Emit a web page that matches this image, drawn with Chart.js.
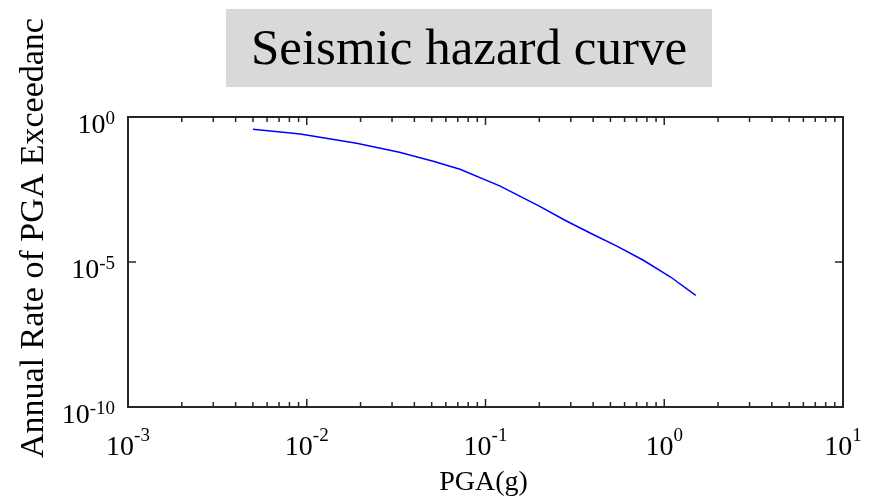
<!DOCTYPE html>
<html>
<head>
<meta charset="utf-8">
<script src="https://cdn.jsdelivr.net/npm/chart.js@4/dist/chart.umd.min.js"></script>
<style>
  html, body { margin: 0; padding: 0; background: #fff; }
  #wrap { position: relative; width: 872px; height: 496px; }
</style>
</head>
<body>
<div id="wrap"><canvas id="hazard" width="872" height="496"></canvas></div>
<script>
// ===== DATA =====
const pga = [0.005, 0.0092, 0.019, 0.033, 0.051, 0.072, 0.12, 0.2, 0.28, 0.4, 0.54, 0.76, 1.08, 1.5];
const rate = [0.377, 0.26, 0.124, 0.061, 0.030, 0.0158, 0.0042, 8.5e-4, 2.7e-4, 8.9e-5, 3.6e-5, 1.17e-5, 3.1e-6, 7.1e-7];
const xTickExp = [-3, -2, -1, 0, 1];
const yTickExp = [-10, -5, 0];
const chartTitle = 'Seismic hazard curve';
const xTitle = 'PGA(g)';
const yTitle = 'Annual Rate of PGA Exceedanc';

const SERIF = '"Liberation Serif", "Times New Roman", serif';
const INK = '#262626';

// draws the title box, axes box, inward ticks and 10^n labels
const frame = {
    id: 'frame',
    beforeDraw(chart) {
        const ctx = chart.ctx;
        ctx.save();
        ctx.fillStyle = '#d9d9d9';
        ctx.fillRect(226, 9, 486, 78);
        ctx.fillStyle = '#000';
        ctx.font = '51px ' + SERIF;
        ctx.textAlign = 'center';
        ctx.textBaseline = 'alphabetic';
        ctx.fillText(chartTitle, 469, 64);
        ctx.restore();
    },
    afterDraw(chart) {
        const { ctx, chartArea: a } = chart;
        const xs = chart.scales.x, ys = chart.scales.y;
        ctx.save();
        ctx.strokeStyle = INK;
        ctx.lineWidth = 2;
        ctx.strokeRect(a.left, a.top, a.right - a.left, a.bottom - a.top);

        ctx.lineWidth = 1.5;
        ctx.beginPath();
        // x ticks, major + minor, bottom and top
        xTickExp.forEach((e, i) => {
            const px = xs.getPixelForValue(Math.pow(10, e));
            ctx.moveTo(px, a.bottom); ctx.lineTo(px, a.bottom - 8);
            ctx.moveTo(px, a.top); ctx.lineTo(px, a.top + 8);
            if (i < xTickExp.length - 1) {
                for (let m = 2; m <= 9; m++) {
                    const mx = xs.getPixelForValue(m * Math.pow(10, e));
                    ctx.moveTo(mx, a.bottom); ctx.lineTo(mx, a.bottom - 5);
                    ctx.moveTo(mx, a.top); ctx.lineTo(mx, a.top + 5);
                }
            }
        });
        yTickExp.forEach(e => {
            const py = ys.getPixelForValue(Math.pow(10, e));
            ctx.moveTo(a.left, py); ctx.lineTo(a.left + 8, py);
            ctx.moveTo(a.right, py); ctx.lineTo(a.right - 8, py);
        });
        ctx.stroke();

        // tick labels
        ctx.fillStyle = '#000';
        ctx.textBaseline = 'alphabetic';
        ctx.textAlign = 'left';
        const big = '28px ' + SERIF, small = '19px ' + SERIF;
        const sizeOf = e => {
            ctx.font = big; const w1 = ctx.measureText('10').width;
            ctx.font = small; const w2 = ctx.measureText(String(e)).width;
            return [w1, w2];
        };
        xTickExp.forEach(e => {
            const px = xs.getPixelForValue(Math.pow(10, e));
            const [w1, w2] = sizeOf(e);
            const x0 = px - (w1 + w2) / 2;
            ctx.font = big; ctx.fillText('10', x0, a.bottom + 48);
            ctx.font = small; ctx.fillText(String(e), x0 + w1, a.bottom + 34);
        });
        yTickExp.forEach(e => {
            const py = ys.getPixelForValue(Math.pow(10, e));
            const [w1, w2] = sizeOf(e);
            const x0 = 115 - (w1 + w2);
            ctx.font = big; ctx.fillText('10', x0, py + 16);
            ctx.font = small; ctx.fillText(String(e), x0 + w1, py + 7);
        });

        // axis titles
        ctx.font = '28px ' + SERIF;
        ctx.textAlign = 'center';
        ctx.fillText(xTitle, (a.left + a.right) / 2 - 2, 490);
        ctx.translate(43, 458);
        ctx.rotate(-Math.PI / 2);
        ctx.font = '34px ' + SERIF;
        ctx.textAlign = 'left';
        ctx.fillText(yTitle, 0, 0);
        ctx.restore();
    }
};

const hiddenAxis = {
    type: 'logarithmic',
    grid: { display: false },
    border: { display: false },
    ticks: { display: false },
    afterFit(scale) {
        if (scale.isHorizontal()) scale.height = 0; else scale.width = 0;
    }
};

new Chart(document.getElementById('hazard').getContext('2d'), {
    type: 'line',
    data: {
        datasets: [{
            data: pga.map((x, i) => ({ x, y: rate[i] })),
            borderColor: '#0000ff',
            borderWidth: 1.5,
            pointRadius: 0,
            tension: 0,
            fill: false
        }]
    },
    options: {
        responsive: false,
        animation: false,
        devicePixelRatio: 1,
        layout: { padding: { left: 128, top: 117, right: 29, bottom: 89 } },
        plugins: { legend: { display: false }, title: { display: false }, tooltip: { enabled: false } },
        scales: {
            x: { ...hiddenAxis, position: 'bottom', min: 1e-3, max: 10 },
            y: { ...hiddenAxis, position: 'left', min: 1e-10, max: 1 }
        }
    },
    plugins: [frame]
});
</script>
</body>
</html>
